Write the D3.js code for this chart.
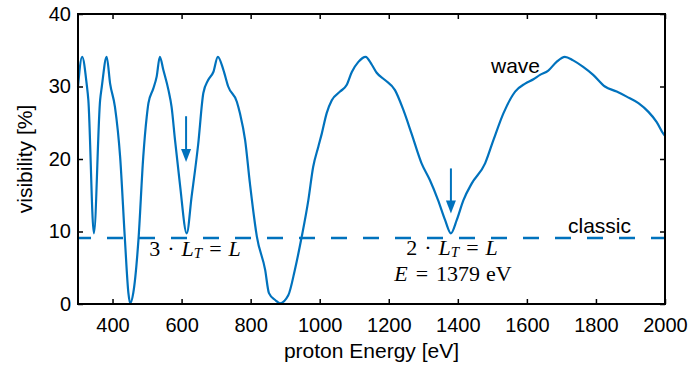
<!DOCTYPE html>
<html><head><meta charset="utf-8">
<script src="https://cdn.jsdelivr.net/npm/d3@7"></script>
<style>
body{margin:0;background:#fff;}
text{font-family:"Liberation Sans",Arial,sans-serif;}
.tex{font-family:"Liberation Serif","Times New Roman",serif;}
</style></head><body>
<svg id="c" width="691" height="365"></svg>
<script>
const energy = [300,312,325,330,346,364,369,383,393,407,422,436,446,451,460,475,489,499,504,518,528,537,547,562,571,581,595,615,629,648,663,677,692,705,721,735,760,769,784,798,818,842,853,871,885,909,928,948,967,981,996,1006,1020,1035,1059,1078,1093,1112,1133,1151,1165,1189,1218,1242,1266,1295,1319,1343,1363,1380,1397,1416,1440,1479,1503,1532,1566,1595,1619,1638,1662,1686,1710,1734,1763,1792,1826,1860,1889,1923,1952,1976,1995,2000];
const visibility = [30.0,34.1,30.4,28.1,9.75,28.1,30.0,34.1,30.4,27.2,20.3,8.8,1.5,0.1,1.5,8.8,20.3,25.8,27.7,29.7,31.4,34.1,32.3,29.5,27.2,22.6,16.6,9.75,14.8,22.0,29.1,30.9,32.0,34.1,32.3,30.0,27.9,26.3,22.6,16.6,9.3,4.7,1.5,0.55,0.1,1.2,4.7,9.3,14.3,18.9,21.7,23.5,26.3,28.1,29.3,30.2,32.0,33.4,34.1,33.0,31.9,30.9,29.5,26.8,23.5,19.4,17.1,14.3,11.6,9.75,11.6,14.3,16.6,19.4,22.6,26.3,29.3,30.4,31.0,31.6,32.2,33.4,34.1,33.6,32.7,31.6,30.0,29.3,28.6,27.7,26.5,25.1,23.5,23.2];
const classicLevel = 9.1;
const xTicks = [400,600,800,1000,1200,1400,1600,1800,2000];
const yTicks = [0,10,20,30,40];
const arrowE = [613,1380];
const arrowFrom = [25.9,18.7];
const arrowTo = [19.6,12.5];

const svg = d3.select("#c");
const L=78, R=665, T=14, B=304;
const x = d3.scaleLinear().domain([300,2000]).range([L,R]);
const y = d3.scaleLinear().domain([0,40]).range([B,T]);
const blue = "#0072BD";
const fsTick = 20, fsLab = 21;

// dashed classic line
svg.append("line").attr("x1",x(300)).attr("x2",x(2000))
  .attr("y1",y(classicLevel)).attr("y2",y(classicLevel))
  .attr("stroke",blue).attr("stroke-width",2.6)
  .attr("stroke-dasharray","16,16").attr("stroke-dashoffset",3);

// wave curve
const pts = energy.map((e,i)=>[e,visibility[i]]);
svg.append("path").datum(pts)
  .attr("d", d3.line().x(d=>x(d[0])).y(d=>y(d[1])).curve(d3.curveMonotoneX))
  .attr("fill","none").attr("stroke",blue).attr("stroke-width",2.2)
  .attr("stroke-linejoin","round");

// arrows
arrowE.forEach((e,i)=>{
  const ax = x(e), y0 = y(arrowFrom[i]), y1 = y(arrowTo[i]);
  svg.append("line").attr("x1",ax).attr("x2",ax).attr("y1",y0).attr("y2",y1-8)
    .attr("stroke",blue).attr("stroke-width",2);
  svg.append("path").attr("d",`M${ax-5},${y1-13}L${ax+5},${y1-13}L${ax},${y1}Z`)
    .attr("fill",blue);
});

// axes
const gB = svg.append("g").attr("transform",`translate(0,${B})`)
  .call(d3.axisBottom(x).tickValues(xTicks).tickSize(-5).tickPadding(14).tickFormat(d3.format("d")));
const gT = svg.append("g").attr("transform",`translate(0,${T})`)
  .call(d3.axisTop(x).tickValues(xTicks).tickSize(-5).tickFormat(""));
const gL = svg.append("g").attr("transform",`translate(${L},0)`)
  .call(d3.axisLeft(y).tickValues(yTicks).tickSize(-5).tickPadding(7));
const gR = svg.append("g").attr("transform",`translate(${R},0)`)
  .call(d3.axisRight(y).tickValues(yTicks).tickSize(-5).tickFormat(""));
[gB,gT,gL,gR].forEach(g=>{
  g.select(".domain").remove();
  g.selectAll(".tick line").attr("stroke","#000").attr("stroke-width",1.5);
  g.selectAll("text").attr("font-size",fsTick).attr("fill","#000")
    .attr("font-family","'Liberation Sans',Arial,sans-serif");
});
svg.append("rect").attr("x",L).attr("y",T).attr("width",R-L).attr("height",B-T)
  .attr("fill","none").attr("stroke","#000").attr("stroke-width",2);

// axis titles
svg.append("text").attr("x",(L+R)/2).attr("y",358).attr("text-anchor","middle")
  .attr("font-size",fsLab).text("proton Energy [eV]");
svg.append("text").attr("transform",`translate(32,${(T+B)/2}) rotate(-90)`)
  .attr("text-anchor","middle").attr("font-size",fsLab).text("visibility [%]");

// labels
svg.append("text").attr("x",491).attr("y",73).attr("font-size",fsLab).text("wave");
svg.append("text").attr("x",568).attr("y",233).attr("font-size",fsLab).text("classic");

const texFs = 22, gap = 7;
function texLabel(cx, by, n){
  const t = svg.append("text").attr("class","tex").attr("x",cx).attr("y",by)
    .attr("text-anchor","middle").attr("font-size",texFs);
  t.append("tspan").text(n);
  t.append("tspan").attr("dx",gap).text("\u00B7");
  t.append("tspan").attr("dx",gap).attr("font-style","italic").text("L");
  t.append("tspan").attr("font-style","italic").attr("font-size",15).attr("dy",2).text("T");
  t.append("tspan").attr("dy",-2).attr("dx",gap).text("=");
  t.append("tspan").attr("dx",gap).attr("font-style","italic").text("L");
}
texLabel(195,256,3);
texLabel(452,255,2);
const t2 = svg.append("text").attr("class","tex").attr("x",453).attr("y",281)
  .attr("text-anchor","middle").attr("font-size",texFs);
t2.append("tspan").attr("font-style","italic").text("E");
t2.append("tspan").attr("dx",gap+1).text("=");
t2.append("tspan").attr("dx",gap+1).text("1379");
t2.append("tspan").attr("dx",6).text("eV");
</script></body></html>
